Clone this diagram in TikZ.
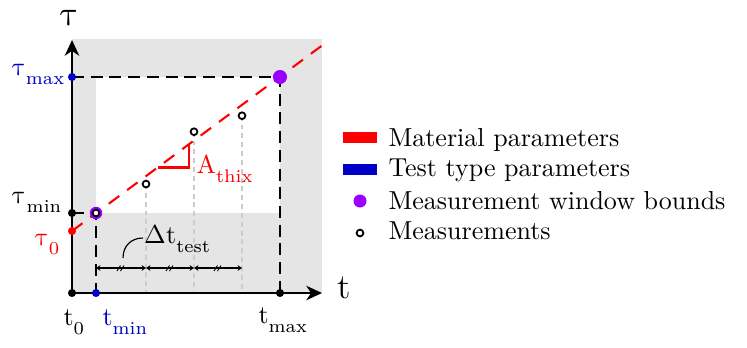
\documentclass[tikz,border=0pt]{standalone}
\usepackage{unicode-math}
\usetikzlibrary{arrows.meta}
\definecolor{mred}{RGB}{255,0,0}
\definecolor{mblue}{RGB}{0,0,200}
\definecolor{mpurple}{RGB}{153,0,255}
\definecolor{bggray}{RGB}{229,229,229}
\newcommand{\lsb}[1]{_{\raisebox{-1.1pt}{$\scriptstyle\mathrm{#1}$}}}
\begin{document}
\begin{tikzpicture}[x=0.3846pt,y=-0.3846pt,
  axis/.style={line width=1.1pt,-{Stealth[length=6pt,width=5.5pt,inset=1.8pt]}},
  bdash/.style={line width=0.95pt,dash pattern=on 4.6pt off 2.6pt},
  rdash/.style={line width=0.8pt,mred,dash pattern=on 5pt off 3.8pt},
  gdash/.style={line width=0.45pt,gray!40,dash pattern=on 1.9pt off 1.5pt},
  dot/.style={circle,inner sep=0pt,minimum size=3.1pt,fill=#1},
  meas/.style={circle,inner sep=0pt,minimum size=2.6pt,draw=black,line width=0.7pt,fill=white},
  bigdot/.style={circle,inner sep=0pt,minimum size=#1,fill=mpurple},
  dimarrow/.style={line width=0.45pt,{Stealth[length=1.7pt,width=2.2pt]}-{Stealth[length=1.7pt,width=2.2pt]}},
  lbl/.style={inner sep=0pt},
  axlbl/.style={inner sep=0pt,font=\fontsize{13.5}{16}\selectfont},
  legbox/.style={inner sep=0pt,minimum width=13.1pt,minimum height=4.3pt,fill=#1},
  ]
\useasboundingbox (0,0) rectangle (747,347);
% background
\fill[bggray] (72,39) rectangle (322,293);
\fill[white] (96,77) rectangle (280,213);
% coordinates
\coordinate (O) at (72,293);
\coordinate (yend) at (72,40);
\coordinate (xend) at (322,293);
\coordinate (tmin) at (96,293);
\coordinate (tmax) at (280,293);
\coordinate (taumax) at (72,77);
\coordinate (taumin) at (72,213);
\coordinate (tau0) at (72,231);
\coordinate (Pmin) at (96,213);
\coordinate (Pmax) at (280,77);
\coordinate (Lend) at (322.7,45);
\coordinate (m1) at (146,184);
\coordinate (m2) at (194,131.7);
\coordinate (m3) at (242,115.7);
\coordinate (b1) at (146,293);
\coordinate (b2) at (194,293);
\coordinate (b3) at (242,293);
\coordinate (d0) at (96,268);
\coordinate (d1) at (146,268);
\coordinate (d2) at (194,268);
\coordinate (d3) at (242,268);
\coordinate (s1) at (158,167.5);
\coordinate (s2) at (188.7,167.5);
\coordinate (s3) at (188.7,145);
\coordinate (lead0) at (123,258);
\coordinate (lead1) at (143,238);
% gray measurement verticals
\draw[gdash] (m1) -- (b1);
\draw[gdash] (m2) -- (b2);
\draw[gdash] (m3) -- (b3);
% black window dashes
\draw[bdash] (taumax) -- (Pmax) -- (tmax);
\draw[bdash] (taumin) -- (Pmin) -- (tmin);
% red line and slope triangle
\draw[rdash] (tau0) -- (Lend);
\draw[mred,line width=0.8pt] (s1) -- (s2) -- (s3);
% delta t dimensions
\draw[dimarrow] (d0) -- (d1);
\draw[dimarrow] (d1) -- (d2);
\draw[dimarrow] (d2) -- (d3);
\foreach \m in {121,170,218}{
  \draw[line width=0.35pt] (\m-4,271) -- (\m-0.5,265.5);
  \draw[line width=0.35pt] (\m-0.5,271) -- (\m+3,265.5);
}
\draw[line width=0.45pt] (lead0) .. controls (123,246) and (131,238) .. (lead1);
% axes
\draw[axis] (O) -- (yend);
\draw[axis] (O) -- (xend);
% dots
\node[dot=black] (dO) at (O) {};
\node[dot=black] (dtaumin) at (taumin) {};
\node[dot=mblue] (dtaumax) at (taumax) {};
\node[dot=mred] (dtau0) at (tau0) {};
\node[dot=mblue] (dtmin) at (tmin) {};
\node[dot=black] (dtmax) at (tmax) {};
\node[bigdot=5.4pt] (dPmax) at (Pmax) {};
\node[bigdot=4.8pt] (dPmin) at (Pmin) {};
\node[meas] (c0) at (Pmin) {};
\node[meas] (c1) at (m1) {};
\node[meas] (c2) at (m2) {};
\node[meas] (c3) at (m3) {};
% labels
\node[axlbl,anchor=base] (Ltau) at (70,25) {$\symup{\tau}$};
\node[axlbl,anchor=base west] (Lt) at (337,298) {$\mathrm{t}$};
\node[lbl,anchor=base east,text=mblue] (Ltaumax) at (66,75) {$\symup{\tau}\lsb{max}$};
\node[lbl,anchor=base east] (Ltaumin) at (63,203) {$\symup{\tau}\lsb{min}$};
\node[lbl,anchor=base east,text=mred] (Ltau0) at (61,245) {$\symup{\tau}\lsb{0}$};
\node[lbl,anchor=base west] (Lt0) at (63,325) {$\mathrm{t}\lsb{0}$};
\node[lbl,anchor=base west,text=mblue] (Ltmin) at (102,325) {$\mathrm{t}\lsb{min}$};
\node[lbl,anchor=base west] (Ltmax) at (258,323) {$\mathrm{t}\lsb{max}$};
\node[lbl,anchor=base west] (Ldt) at (144,243) {$\Delta\mathrm{t}\lsb{test}$};
\node[lbl,anchor=base west,text=mred] (LA) at (196,173) {$\mathrm{A}\lsb{thix}$};
% legend
\node[legbox=mred] (legR) at (360,137.5) {};
\node[lbl,anchor=base west] (legRt) at (388,146) {Material parameters};
\node[legbox=mblue] (legB) at (360,169.5) {};
\node[lbl,anchor=base west] (legBt) at (388,176.5) {Test type parameters};
\node[bigdot=5pt] (legP) at (360,201) {};
\node[lbl,anchor=base west] (legPt) at (388,209) {Measurement window bounds};
\node[meas] (legM) at (360,233) {};
\node[lbl,anchor=base west] (legMt) at (388,239.5) {Measurements};
\end{tikzpicture}
\end{document}
